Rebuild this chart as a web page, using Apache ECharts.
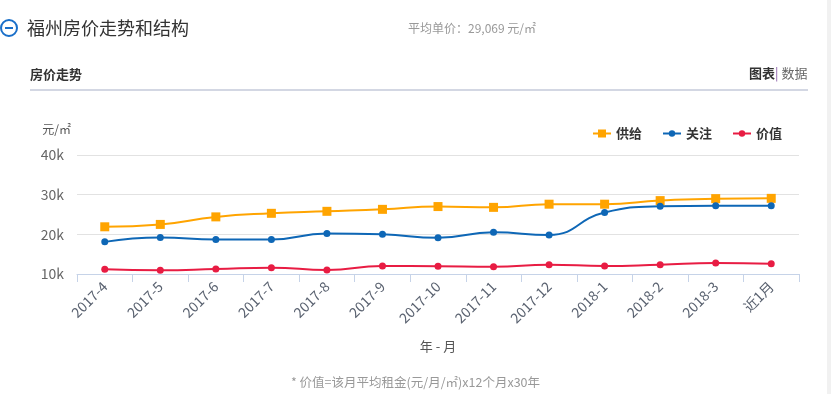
<!DOCTYPE html>
<html><head><meta charset="utf-8">
<script src="https://cdn.jsdelivr.net/npm/echarts@6/dist/echarts.min.js"></script>
<style>
html,body{margin:0;padding:0;background:#fff;font-family:"Noto Sans CJK SC","Noto Sans",sans-serif;}
#wrap{position:relative;width:831px;height:394px;overflow:hidden;}
#chart{position:absolute;left:0;top:0;width:831px;height:394px;}
.t{position:absolute;white-space:nowrap;}
</style></head>
<body><div id="wrap">
<div id="chart"></div>
<div class="t" style="left:0;top:19px;width:14px;height:14px;border:2px solid #1a6fc9;border-radius:50%;"></div>
<div class="t" style="left:5px;top:27px;width:8px;height:2px;background:#1a6fc9;"></div>
<div class="t" style="left:27px;top:14px;font-size:18px;color:#333;">福州房价走势和结构</div>
<div class="t" style="left:408px;top:19px;font-size:12px;color:#999;">平均单价：29,069 元/㎡</div>
<div class="t" style="left:30px;top:64px;font-size:13px;color:#333;font-weight:bold;">房价走势</div>
<div class="t" style="left:749px;top:63px;font-size:13px;color:#333;"><b>图表</b><span style="color:#8a5ca8">|</span> <span style="color:#666">数据</span></div>
<div class="t" style="left:30px;top:89px;width:778px;height:2px;background:#d3d7e3;"></div>
<div class="t" style="left:827px;top:0;width:4px;height:394px;background:#f1f1f1;"></div>
</div>
<script>
var categories = ['2017-4','2017-5','2017-6','2017-7','2017-8','2017-9','2017-10','2017-11','2017-12','2018-1','2018-2','2018-3','近1月'];
var supply = [21900,22500,24400,25300,25800,26300,27000,26800,27600,27600,28500,29000,29069];
var attention = [18100,19200,18700,18700,20200,20000,19150,20500,19850,25500,27050,27200,27200];
var value = [11200,10950,11250,11600,11000,12000,11950,11850,12350,12000,12350,12750,12600];
var yTicks = [10000,20000,30000,40000];

var chart = echarts.init(document.getElementById('chart'));
function ser(name, data, color, symbol, size){
  return {name:name,type:'line',data:data,smooth:true,symbol:symbol,symbolSize:size,showSymbol:true,
    itemStyle:{color:color},lineStyle:{color:color,width:2}};
}
chart.setOption({
  animation:false,
  textStyle:{fontFamily:'"Noto Sans CJK SC","Noto Sans",sans-serif'},
  grid:{left:77,right:32,top:155,bottom:120,containLabel:false},
  legend:{right:44,top:122,itemWidth:18,itemHeight:8,itemGap:20,
    textStyle:{fontSize:13,fontWeight:'bold',color:'#333'},
    data:[{name:'供给',icon:'path://M0,3L5,3L5,0L13,0L13,3L18,3L18,5L13,5L13,8L5,8L5,5L0,5Z'},
          {name:'关注'},{name:'价值'}]},
  title:{text:'* 价值=该月平均租金(元/月/㎡)x12个月x30年',left:'center',top:371,
    textStyle:{fontSize:12.5,color:'#999',fontWeight:'normal'}},
  xAxis:{type:'category',data:categories,boundaryGap:true,
    name:'年 - 月',nameLocation:'middle',nameGap:66,nameTextStyle:{fontSize:13,color:'#555'},
    axisLine:{lineStyle:{color:'#c6d3e8'}},
    axisTick:{show:true,length:8,lineStyle:{color:'#c6d3e8'}},
    axisLabel:{rotate:45,fontSize:14,color:'#5a6270',interval:0,margin:10}},
  yAxis:{type:'value',min:10000,max:40000,interval:10000,
    name:'元/㎡',nameTextStyle:{fontSize:12,color:'#555',align:'right',padding:[0,6,4,0]},nameGap:16,
    axisLine:{show:false},axisTick:{show:false},
    splitLine:{lineStyle:{color:'#e2e2e2'}},
    axisLabel:{fontSize:14,color:'#666',margin:13,formatter:function(v){return (v/1000)+'k';}}},
  series:[
    ser('供给',supply,'#ffa400','rect',9),
    ser('关注',attention,'#0e67b6','circle',7),
    ser('价值',value,'#e81c43','circle',7)
  ]
});
</script></body></html>
